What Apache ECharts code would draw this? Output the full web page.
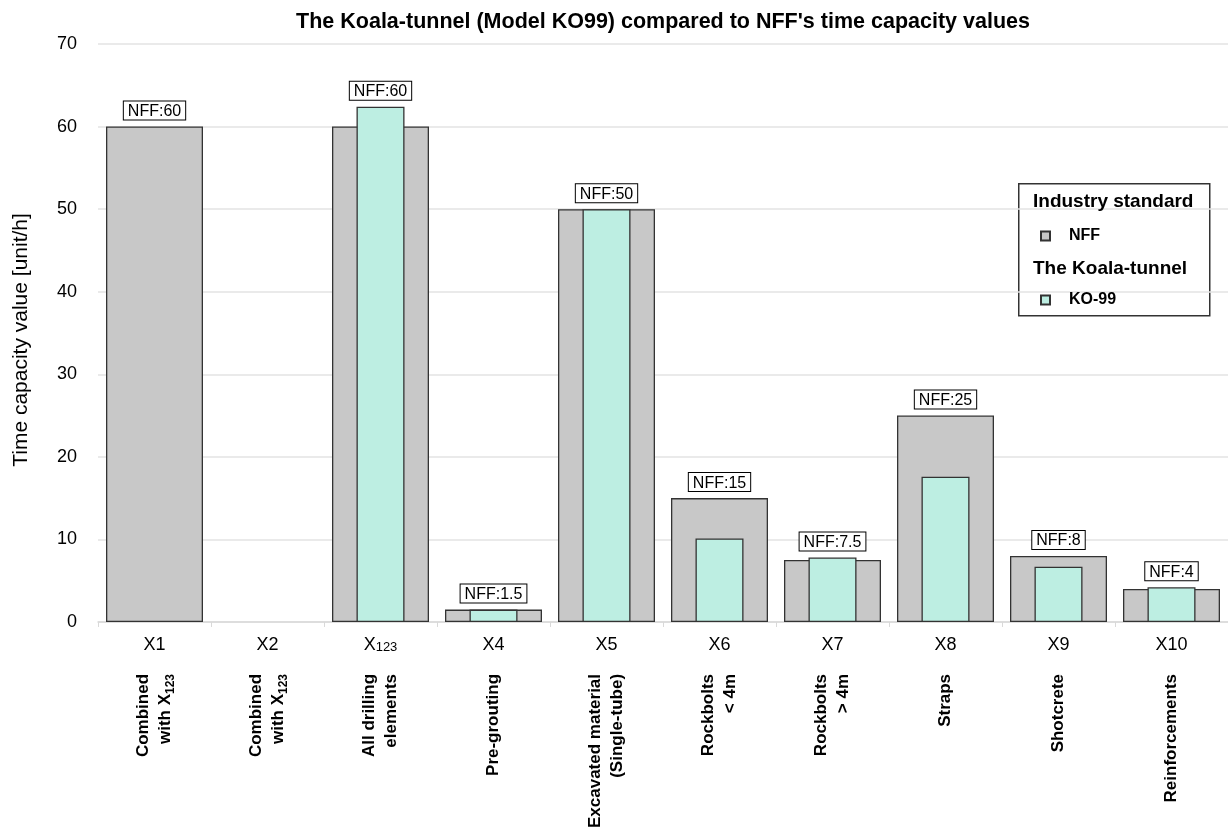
<!DOCTYPE html>
<html>
<head>
<meta charset="utf-8">
<script src="https://cdn.jsdelivr.net/npm/echarts@6/dist/echarts.min.js"></script>
<style>
  html, body { margin: 0; padding: 0; background: #fff; }
  #chart { width: 1228px; height: 831px; }
</style>
</head>
<body>
<div id="chart"></div>
<script>
// Element codes (tick labels, {s|...} marks a subscript)
const codes = ['X1', 'X2', 'X{s|123}', 'X4', 'X5', 'X6', 'X7', 'X8', 'X9', 'X10'];
// Element descriptions shown under the codes
const descriptions = [
  'Combined\nwith X{s|123}',
  'Combined\nwith X{s|123}',
  'All drilling\nelements',
  'Pre-grouting',
  'Excavated material\n(Single-tube)',
  'Rockbolts\n< 4m',
  'Rockbolts\n> 4m',
  'Straps',
  'Shotcrete',
  'Reinforcements'
];
// Industry standard (NFF) time capacity values [unit/h]
const nffValues = [60, null, 60, 1.5, 50, 15, 7.5, 25, 8, 4];
// Koala-tunnel KO-99 time capacity values [unit/h]
const koValues = [null, null, 62.4, 1.5, 50, 10.1, 7.8, 17.6, 6.7, 4.2];
// Value axis ticks
const yTicks = { min: 0, max: 70, interval: 10 };

const FONT = 'Liberation Sans, Arial, sans-serif';

const boxLabel = {
  show: true,
  position: 'top',
  distance: 7,
  fontFamily: FONT,
  fontSize: 16,
  color: '#000',
  backgroundColor: '#fff',
  borderColor: '#000',
  borderWidth: 1,
  padding: [2, 4, 0, 4]
};

// The "NFF:x" tag sits above whichever bar is taller in a category
const nffData = nffValues.map((v, i) => {
  const ko = koValues[i];
  const onKo = ko != null && v != null && ko > v;
  return {
    value: v,
    label: Object.assign({}, boxLabel, {
      show: v != null && !onKo,
      formatter: () => 'NFF:' + v
    })
  };
});
const koData = koValues.map((v, i) => {
  const n = nffValues[i];
  const onKo = v != null && n != null && v > n;
  return {
    value: v,
    label: Object.assign({}, boxLabel, {
      show: onKo,
      formatter: () => 'NFF:' + n
    })
  };
});

const chart = echarts.init(document.getElementById('chart'), null, { renderer: 'canvas' });

const option = {
  backgroundColor: '#fff',
  animation: false,
  textStyle: { fontFamily: FONT },
  title: {
    text: "The Koala-tunnel (Model KO99) compared to NFF's time capacity values",
    left: 658,
    textAlign: 'center',
    top: 6,
    textStyle: { fontFamily: FONT, fontSize: 21.5, fontWeight: 'bold', color: '#000' }
  },
  grid: { left: 98, right: -5, top: 44, bottom: 209, containLabel: false },
  legend: [
    {
      left: 1035, top: 223, orient: 'vertical',
      data: ['NFF'],
      icon: 'rect', itemWidth: 9, itemHeight: 9,
      textStyle: { fontFamily: FONT, fontSize: 16, fontWeight: 'bold', color: '#000', padding: [0, 0, 0, 14] },
      selectedMode: false
    },
    {
      left: 1035, top: 287, orient: 'vertical',
      data: ['KO-99'],
      icon: 'rect', itemWidth: 9, itemHeight: 9,
      textStyle: { fontFamily: FONT, fontSize: 16, fontWeight: 'bold', color: '#000', padding: [0, 0, 0, 14] },
      selectedMode: false
    }
  ],
  graphic: [
    {
      type: 'rect', left: 1018, top: 183, z: 0,
      shape: { width: 191, height: 132 },
      style: { fill: '#fff', stroke: '#333', lineWidth: 1.5 }
    },
    {
      type: 'text', left: 1033, top: 192, z: 10,
      style: { text: 'Industry standard', font: 'bold 19px ' + FONT, fill: '#000' }
    },
    {
      type: 'text', left: 1033, top: 259, z: 10,
      style: { text: 'The Koala-tunnel', font: 'bold 19px ' + FONT, fill: '#000' }
    }
  ],
  xAxis: [
    {
      type: 'category',
      data: codes,
      position: 'bottom',
      axisLine: { show: true, lineStyle: { color: '#d9d9d9', width: 1.5 } },
      axisTick: { show: true, alignWithLabel: false, length: 5, lineStyle: { color: '#d9d9d9' } },
      axisLabel: {
        interval: 0,
        margin: 14,
        fontFamily: FONT,
        fontSize: 18,
        color: '#000',
        rich: {
          s: { fontFamily: FONT, fontSize: 13, color: '#000', verticalAlign: 'bottom', lineHeight: 12 }
        }
      }
    },
    {
      type: 'category',
      data: descriptions,
      position: 'bottom',
      axisLine: { show: false },
      axisTick: { show: false },
      axisLabel: {
        interval: 0,
        rotate: 90,
        margin: 52,
        fontFamily: FONT,
        fontSize: 17,
        fontWeight: 'bold',
        lineHeight: 22,
        color: '#000',
        rich: {
          s: { fontFamily: FONT, fontSize: 12, fontWeight: 'bold', color: '#000', verticalAlign: 'bottom', lineHeight: 11 }
        }
      }
    }
  ],
  yAxis: {
    type: 'value',
    min: yTicks.min,
    max: yTicks.max,
    interval: yTicks.interval,
    name: 'Time capacity value [unit/h]',
    nameLocation: 'middle',
    nameGap: 66,
    nameTextStyle: { fontFamily: FONT, fontSize: 21, color: '#000', padding: [0, 14, 0, 0] },
    axisLine: { show: false },
    axisTick: { show: false },
    axisLabel: { fontFamily: FONT, fontSize: 18, color: '#000', margin: 21 },
    splitLine: { show: true, lineStyle: { color: '#e3e3e3', width: 1.5 } }
  },
  series: [
    {
      name: 'NFF',
      type: 'bar',
      xAxisIndex: 0,
      barWidth: 97,
      data: nffData,
      itemStyle: { color: '#c8c8c8', borderColor: '#333', borderWidth: 1.3 },
      z: 2
    },
    {
      name: 'KO-99',
      type: 'bar',
      xAxisIndex: 1,
      barWidth: 48,
      data: koData,
      itemStyle: { color: '#bdeee2', borderColor: '#333', borderWidth: 1.3 },
      z: 3
    }
  ]
};

chart.setOption(option);
</script>
</body>
</html>
